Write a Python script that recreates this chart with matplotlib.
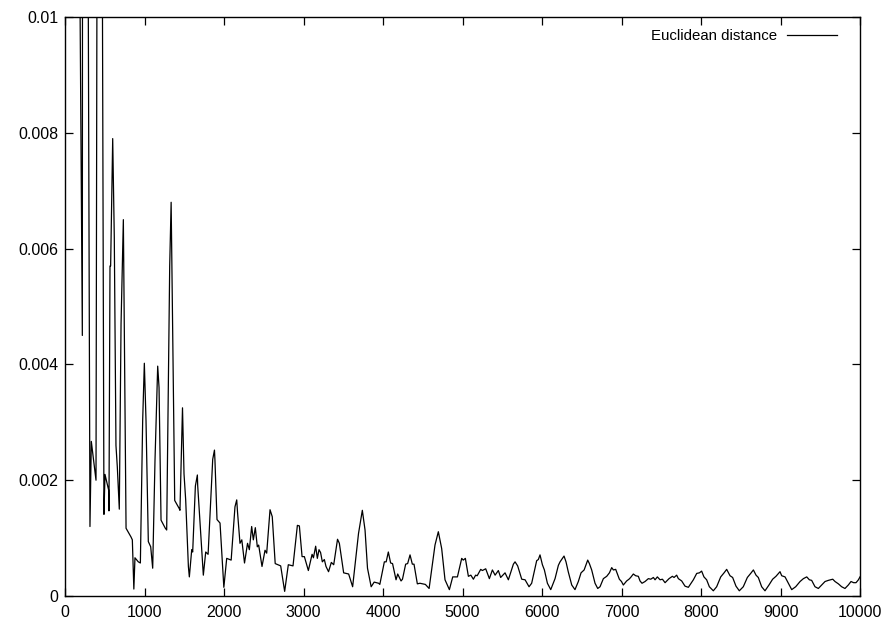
import matplotlib
matplotlib.use("Agg")
import matplotlib.pyplot as plt
from matplotlib.ticker import FixedLocator, FixedFormatter

# values (iteration, distance)
steps = [
    0, 140, 218, 226, 270, 314, 331, 390, 415, 450, 490, 503, 549, 553, 566, 574,
    600, 620, 641, 658, 683, 705, 734, 768, 830, 847, 866, 880, 922, 948, 977, 998,
    1019, 1048, 1069, 1078, 1103, 1132, 1166, 1183, 1208, 1262, 1279, 1317, 1335, 1380,
    1437, 1446, 1478, 1497, 1518, 1552, 1564, 1594, 1606, 1640, 1665, 1669, 1699, 1740,
    1770, 1800, 1858, 1880, 1886, 1912, 1950, 1998, 2034, 2090, 2138, 2160, 2170, 2201,
    2224, 2258, 2296, 2319, 2348, 2369, 2394, 2419, 2436, 2478, 2516, 2537, 2579, 2607,
    2644, 2713, 2763, 2809, 2868, 2923, 2948, 2982, 3011, 3061, 3108, 3125, 3153, 3174,
    3195, 3215, 3237, 3262, 3283, 3315, 3350, 3380, 3428, 3451, 3505, 3568, 3618, 3692,
    3740, 3774, 3805, 3851, 3889, 3945, 3960, 4017, 4040, 4067, 4096, 4120, 4164, 4185,
    4227, 4245, 4285, 4310, 4340, 4369, 4390, 4432, 4465, 4533, 4580, 4654, 4696, 4738,
    4780, 4835, 4877, 4936, 4990, 5010, 5036, 5074, 5105, 5137, 5165, 5185, 5229, 5250,
    5292, 5338, 5376, 5410, 5451, 5480, 5535, 5577, 5640, 5661, 5694, 5745, 5787, 5837,
    5870, 5933, 5954, 5975, 6005, 6030, 6068, 6110, 6164, 6206, 6227, 6277, 6302, 6330,
    6374, 6415, 6457, 6491, 6530, 6575, 6596, 6625, 6667, 6701, 6730, 6772, 6814, 6848,
    6877, 6898, 6927, 6973, 7000, 7023, 7065, 7094, 7115, 7149, 7178, 7212, 7233, 7258,
    7296, 7338, 7368, 7401, 7422, 7451, 7485, 7515, 7548, 7598, 7640, 7661, 7694, 7715,
    7757, 7799, 7841, 7904, 7946, 7980, 8008, 8037, 8071, 8105, 8155, 8197, 8248, 8290,
    8323, 8365, 8398, 8440, 8482, 8532, 8583, 8625, 8659, 8692, 8721, 8763, 8805, 8855,
    8901, 8943, 8994, 9015, 9057, 9099, 9141, 9191, 9246, 9288, 9330, 9363, 9392, 9434,
    9476, 9518, 9560, 9602, 9657, 9686, 9728, 9769, 9811, 9853, 9887, 9920, 9950, 9980,
    10000,
]

distance = [
    0.06, 0.02, 0.0045, 0.03, 0.02, 0.0012, 0.00267, 0.0020, 0.02, 0.02, 0.00141, 0.0021,
    0.00183, 0.00147, 0.0057, 0.0057, 0.0079, 0.0062, 0.0026, 0.00223, 0.0015, 0.0047,
    0.0065, 0.00117, 0.00102, 0.00097, 0.00012, 0.00066, 0.00059, 0.00057, 0.00303,
    0.00402, 0.00303, 0.00094, 0.00088, 0.00085, 0.00048, 0.00234, 0.00397, 0.0036,
    0.00131, 0.00117, 0.00114, 0.0057, 0.0068, 0.00165, 0.00151, 0.00148, 0.00325,
    0.00211, 0.00166, 0.00051, 0.00033, 0.0008, 0.00076, 0.0019, 0.00209, 0.00191,
    0.00125, 0.00036, 0.00076, 0.00072, 0.00236, 0.00252, 0.00235, 0.00132, 0.00126,
    0.00015, 0.00065, 0.00062, 0.00154, 0.00166, 0.00145, 0.00091, 0.00097, 0.00057,
    0.00091, 0.0008, 0.0012, 0.00097, 0.00118, 0.00085, 0.00088, 0.00051, 0.00079,
    0.00074, 0.00149, 0.00137, 0.00056, 0.00052, 0.00008, 0.00054, 0.00052, 0.00122,
    0.00121, 0.00068, 0.00068, 0.00044, 0.00072, 0.00066, 0.00086, 0.00065, 0.0008,
    0.00075, 0.00059, 0.00063, 0.00051, 0.00042, 0.00058, 0.00054, 0.00098, 0.00091,
    0.0004, 0.00038, 0.00016, 0.00108, 0.00148, 0.00114, 0.00048, 0.00016, 0.00024,
    0.00022, 0.0002, 0.00059, 0.00059, 0.00076, 0.00057, 0.00056, 0.00028, 0.00038,
    0.00026, 0.00029, 0.00055, 0.00056, 0.00071, 0.00055, 0.00055, 0.00021, 0.00022,
    0.0002, 0.00013, 0.00088, 0.00111, 0.00082, 0.00028, 0.00011, 0.00033, 0.00033,
    0.00065, 0.00062, 0.00065, 0.00034, 0.00036, 0.00029, 0.00036, 0.00035, 0.00046,
    0.00044, 0.00047, 0.0003, 0.00045, 0.00036, 0.00044, 0.00032, 0.0004, 0.00028,
    0.00055, 0.00059, 0.00052, 0.00029, 0.00028, 0.00016, 0.00022, 0.00061, 0.00063,
    0.00071, 0.00054, 0.00045, 0.00022, 0.00011, 0.0003, 0.00053, 0.00059, 0.00069,
    0.00059, 0.00042, 0.00019, 0.00011, 0.00025, 0.0004, 0.00045, 0.00062, 0.00056,
    0.00045, 0.00022, 0.00013, 0.00016, 0.0003, 0.00034, 0.0004, 0.00049, 0.00045,
    0.00046, 0.00029, 0.00025, 0.00019, 0.00026, 0.00029, 0.00032, 0.00038, 0.00035,
    0.00034, 0.00026, 0.00022, 0.00025, 0.0003, 0.00029, 0.00032, 0.00028, 0.00033,
    0.00028, 0.00029, 0.00023, 0.0003, 0.00034, 0.00032, 0.00036, 0.0003, 0.00026,
    0.00017, 0.00015, 0.00028, 0.00039, 0.0004, 0.00043, 0.00033, 0.00028, 0.00016,
    0.00009, 0.00016, 0.00033, 0.0004, 0.00046, 0.00035, 0.00032, 0.00017, 0.00009,
    0.00016, 0.00032, 0.00039, 0.00045, 0.00036, 0.00032, 0.00016, 0.00009, 0.00019,
    0.00029, 0.00034, 0.00042, 0.00035, 0.00033, 0.00022, 0.00011, 0.00016, 0.00025,
    0.0003, 0.00033, 0.00028, 0.00027, 0.00016, 0.00013, 0.00019, 0.00025, 0.00027,
    0.00029, 0.00025, 0.00021, 0.00016, 0.00013, 0.00019, 0.00025, 0.00023, 0.00023,
    0.00028, 0.00033,
]

x_ticks = [0, 1000, 2000, 3000, 4000, 5000, 6000, 7000, 8000, 9000, 10000]
y_ticks = [0, 0.002, 0.004, 0.006, 0.008, 0.01]
y_labels = ["0", "0.002", "0.004", "0.006", "0.008", "0.01"]

plt.rcParams["font.family"] = ["Liberation Sans", "DejaVu Sans"]

fig = plt.figure(figsize=(8.85, 6.23), dpi=100)
ax = fig.add_axes([65 / 885, 27 / 623, 795 / 885, 579 / 623])

ax.plot(steps, distance, color="black", linewidth=0.9, label="Euclidean distance")

ax.set_xlim(0, 10000)
ax.set_ylim(0, 0.01)
ax.xaxis.set_major_locator(FixedLocator(x_ticks))
ax.xaxis.set_major_formatter(FixedFormatter([str(t) for t in x_ticks]))
ax.yaxis.set_major_locator(FixedLocator(y_ticks))
ax.yaxis.set_major_formatter(FixedFormatter(y_labels))
ax.tick_params(direction="in", top=True, right=True, length=6, width=0.9,
               labelsize=11.5)
ax.tick_params(axis="x", pad=6.5)
ax.tick_params(axis="y", pad=5)
for s in ax.spines.values():
    s.set_linewidth(1.0)

ax.legend(loc="upper right", frameon=False, markerfirst=False, handlelength=3.3,
          handletextpad=0.65, borderaxespad=0.4, bbox_to_anchor=(0.986, 1.0),
          fontsize=10.8)

fig.savefig("out.png", dpi=100)
